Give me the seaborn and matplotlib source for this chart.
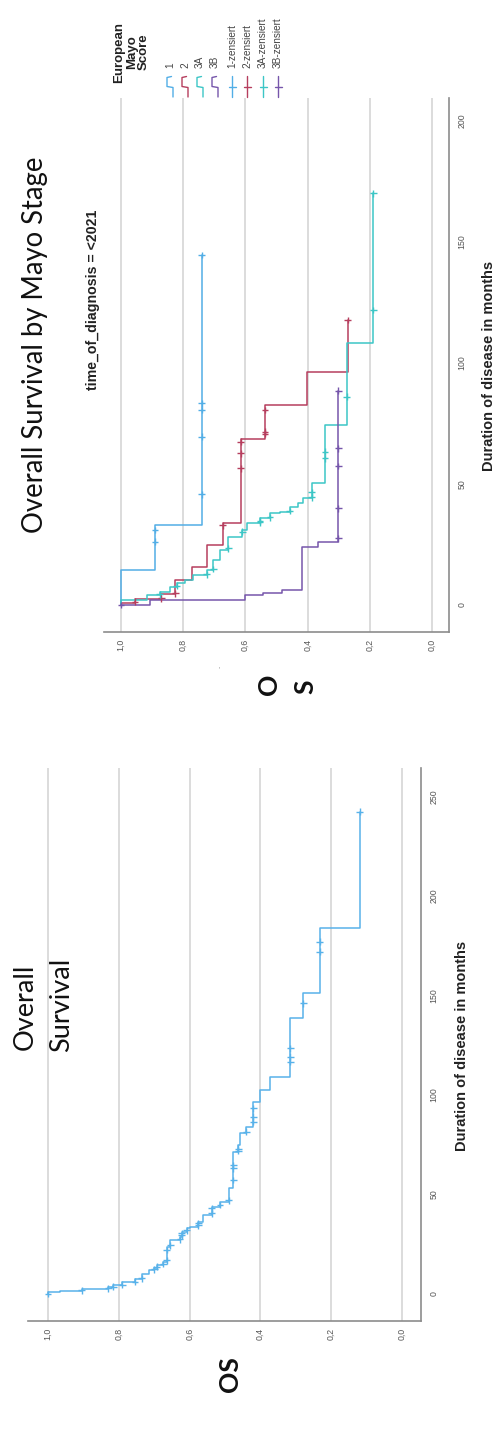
import numpy as np
import pandas as pd
import matplotlib
matplotlib.use("Agg")
import matplotlib.pyplot as plt
import seaborn as sns

# ---------------- data ----------------
surv_ticks = [1.0, 0.8, 0.6, 0.4, 0.2, 0.0]
surv_tick_labels = ["1,0", "0,8", "0,6", "0,4", "0,2", "0,0"]
time_ticks_top = [0, 50, 100, 150, 200]
time_ticks_bottom = [0, 50, 100, 150, 200, 250]

# Overall survival (all patients)
os_event_months = [1.2, 1.7, 2.3, 3.4, 4.5, 5.9, 7.5, 10.0, 12.0, 12.9, 14.6, 16.2,
                   23.8, 27.1, 28.8, 31.3, 33.0, 33.8, 36.3, 39.7, 43.9, 46.4, 53.1,
                   71.5, 74.9, 80.8, 84.1, 96.6, 102.5, 109.0, 138.5, 151.0, 183.8]
os_event_surv = [0.966, 0.905, 0.830, 0.815, 0.790, 0.754, 0.735, 0.715, 0.700, 0.693,
                 0.674, 0.665, 0.655, 0.627, 0.622, 0.608, 0.600, 0.575, 0.561, 0.538,
                 0.514, 0.490, 0.477, 0.462, 0.458, 0.440, 0.420, 0.401, 0.373, 0.316,
                 0.279, 0.232, 0.119]
os_censor_months = [0.0, 1.8, 2.9, 3.6, 4.7, 6.2, 7.9, 12.4, 13.7, 15.0, 17.0, 22.1,
                    24.5, 27.5, 29.5, 30.5, 32.0, 34.5, 35.5, 40.5, 43.1, 44.7, 47.0,
                    57.3, 63.2, 64.8, 72.0, 73.0, 81.5, 86.6, 89.1, 93.3, 116.7, 119.3,
                    123.5, 146.0, 172.0, 177.0, 242.4]

# Overall survival by European Mayo stage
mayo_groups = ["1", "2", "3A", "3B"]
g1_event_months = [14.5, 33.0]
g1_event_surv = [0.891, 0.741]
g1_censor_months = [26.2, 31.0, 45.7, 69.6, 80.6, 83.3, 144.6]

g2_event_months = [0.8, 2.6, 4.6, 10.3, 15.8, 24.8, 33.7, 68.6, 82.6, 96.4]
g2_event_surv = [0.955, 0.870, 0.826, 0.773, 0.722, 0.673, 0.615, 0.537, 0.403, 0.271]
g2_censor_months = [1.4, 2.8, 4.8, 33.0, 56.5, 62.7, 67.5, 70.7, 71.6, 80.6, 117.8]

g3a_event_months = [2.1, 4.1, 5.2, 7.6, 9.0, 10.3, 12.4, 14.5, 18.6, 22.7, 28.2, 31.0,
                    33.7, 35.8, 37.9, 38.6, 40.6, 42.0, 44.1, 50.3, 74.4, 108.1]
g3a_event_surv = [0.917, 0.875, 0.842, 0.821, 0.794, 0.768, 0.724, 0.703, 0.682, 0.655,
                  0.610, 0.596, 0.553, 0.521, 0.489, 0.457, 0.430, 0.414, 0.387, 0.344,
                  0.274, 0.189]
g3a_censor_months = [4.5, 7.9, 12.7, 14.9, 23.5, 30.3, 34.2, 34.8, 36.2, 38.8, 44.5,
                     46.5, 60.6, 63.4, 86.1, 121.9, 170.1]

g3b_event_months = [0.2, 2.1, 4.1, 4.8, 6.2, 24.1, 26.2]
g3b_event_surv = [0.907, 0.601, 0.542, 0.483, 0.419, 0.366, 0.301]
g3b_censor_months = [0.0, 27.5, 40.0, 57.4, 64.7, 88.6]

legend_labels = ["1", "2", "3A", "3B", "1-zensiert", "2-zensiert", "3A-zensiert", "3B-zensiert"]

palette = {"1": "#52aee6", "2": "#b63e5e", "3A": "#3cc6c6", "3B": "#7656ab", "all": "#58b2ea"}

# ---------------- helpers ----------------
def km_frame(events, surv, censor, label):
    t = [0.0] + list(events) + [max(censor)]
    s = [1.0] + list(surv) + [surv[-1]]
    return pd.DataFrame({"time": t, "surv": s, "group": label})


def censor_frame(events, surv, censor, label):
    levels = np.r_[1.0, surv]
    idx = np.searchsorted(np.asarray(events), np.asarray(censor), side="right")
    return pd.DataFrame({"time": censor, "surv": levels[idx], "group": label})


W, H = 498, 1429
sns.set_style("white")
plt.rcParams["font.family"] = ["Liberation Sans", "DejaVu Sans"]

fig = plt.figure(figsize=(W / 100, H / 100), dpi=100)


def rect(x0, y0, x1, y1):
    return [x0 / W, 1 - y1 / H, (x1 - x0) / W, (y1 - y0) / H]


def style_axes(ax, xlim, ylim, tticks):
    ax.set_xlim(*xlim)
    ax.set_ylim(*ylim)
    ax.set_xticks(surv_ticks)
    ax.set_xticklabels(surv_tick_labels, rotation=90)
    ax.set_yticks(tticks)
    ax.set_yticklabels([str(t) for t in tticks], rotation=90, va="center")
    ax.yaxis.tick_right()
    ax.tick_params(axis="x", length=0, pad=5, labelsize=6.3, labelcolor="#555555")
    ax.tick_params(axis="y", length=0, pad=6, labelsize=6.3, labelcolor="#555555")
    ax.grid(False)
    ax.xaxis.grid(True, color="#d6d6d6", lw=1.2)
    ax.set_axisbelow(True)
    for side in ["top", "left"]:
        ax.spines[side].set_visible(False)
    for side in ["right", "bottom"]:
        ax.spines[side].set_visible(True)
        ax.spines[side].set_color("#8c8c8c")
        ax.spines[side].set_linewidth(1.2)
    ax.set_xlabel("")
    ax.set_ylabel("")


# ---------------- top panel: by Mayo stage ----------------
ax_top = fig.add_axes(rect(104, 98, 449, 632))
groups = [
    (g1_event_months, g1_event_surv, g1_censor_months, "1"),
    (g2_event_months, g2_event_surv, g2_censor_months, "2"),
    (g3a_event_months, g3a_event_surv, g3a_censor_months, "3A"),
    (g3b_event_months, g3b_event_surv, g3b_censor_months, "3B"),
]
steps_top = pd.concat([km_frame(*g) for g in groups], ignore_index=True)
cens_top = pd.concat([censor_frame(*g) for g in groups], ignore_index=True)
sns.lineplot(data=steps_top, x="surv", y="time", hue="group", palette=palette,
             hue_order=mayo_groups, orient="y", estimator=None, sort=True,
             drawstyle="steps-pre", lw=1.1, legend=False, ax=ax_top)
sns.scatterplot(data=cens_top, x="surv", y="time", hue="group", palette=palette,
                hue_order=mayo_groups, marker="+", s=24, linewidth=1.0,
                legend=False, ax=ax_top, zorder=3)
style_axes(ax_top, (1.0547, -0.0547), (-11.16, 209.5), time_ticks_top)

# ---------------- bottom panel: overall ----------------
ax_bot = fig.add_axes(rect(28, 768, 421, 1321))
steps_os = km_frame(os_event_months, os_event_surv, os_censor_months, "all")
cens_os = censor_frame(os_event_months, os_event_surv, os_censor_months, "all")
sns.lineplot(data=steps_os, x="surv", y="time", hue="group", palette=palette,
             orient="y", estimator=None, sort=True, drawstyle="steps-pre",
             lw=1.1, legend=False, ax=ax_bot)
sns.scatterplot(data=cens_os, x="surv", y="time", hue="group", palette=palette,
                marker="+", s=24, linewidth=1.0, legend=False, ax=ax_bot, zorder=3)
style_axes(ax_bot, (1.0565, -0.0537), (-13.6, 264.3), time_ticks_bottom)

# ---------------- overlay in pixel coordinates ----------------
ov = fig.add_axes([0, 0, 1, 1])
ov.set_xlim(0, W)
ov.set_ylim(H, 0)
ov.axis("off")

def rtext(x, y, s, **kw):
    kw.setdefault("rotation", 90)
    kw.setdefault("rotation_mode", "anchor")
    ov.text(x, y, s, **kw)

title_font = ["Lato", "DejaVu Sans"]
rtext(43, 533, "Overall Survival by Mayo Stage", ha="left", va="baseline",
      fontsize=19.8, family=title_font, color="#111111")
rtext(33, 1050, "Overall", ha="left", va="baseline", fontsize=19.5,
      family=title_font, color="#111111")
rtext(69, 1052, "Survival", ha="left", va="baseline", fontsize=19.5,
      family=title_font, color="#111111")
rtext(238, 1392, "OS", ha="left", va="baseline", fontsize=19,
      family=title_font, fontweight="bold", color="#111111")
rtext(277, 695, "O", ha="left", va="baseline", fontsize=19,
      family=title_font, fontweight="bold", color="#111111")
rtext(313, 694, "S", ha="left", va="baseline", fontsize=19,
      family=title_font, fontweight="bold", color="#111111")
rtext(220, 667, "-", ha="center", va="center", fontsize=5, color="#999999")

rtext(97, 390, "time_of_diagnosis = <2021", ha="left", va="baseline",
      fontsize=10.2, fontweight="bold", color="#222222")
rtext(489, 366, "Duration of disease in months", ha="center", va="center",
      fontsize=10.5, fontweight="bold", color="#222222")
rtext(462, 1046, "Duration of disease in months", ha="center", va="center",
      fontsize=10.5, fontweight="bold", color="#222222")

# legend title
for xc, word in zip([119, 132, 144], ["European", "Mayo", "Score"]):
    rtext(xc, 52, word, ha="center", va="center", fontsize=9.5,
          fontweight="bold", color="#222222")

# legend entries
leg_x = [170, 185, 200, 215, 232, 247, 263, 278]
leg_colors = [palette[g] for g in mayo_groups] * 2
for i, (xc, lab, col) in enumerate(zip(leg_x, legend_labels, leg_colors)):
    rtext(xc, 68, lab, ha="left", va="center", fontsize=7.2, color="#444444")
    if i < 4:
        ov.plot([xc + 1.5, xc - 3, xc - 3, xc + 3, xc + 3],
                [76.5, 77.5, 86.5, 87.5, 97], color=col, lw=1.0,
                solid_joinstyle="round")
    else:
        ov.plot([xc, xc], [76, 97], color=col, lw=1.0)
        ov.plot([xc - 3.5, xc + 3.5], [86.5, 86.5], color=col, lw=1.0)

fig.savefig("out.png", dpi=100, facecolor="white")
